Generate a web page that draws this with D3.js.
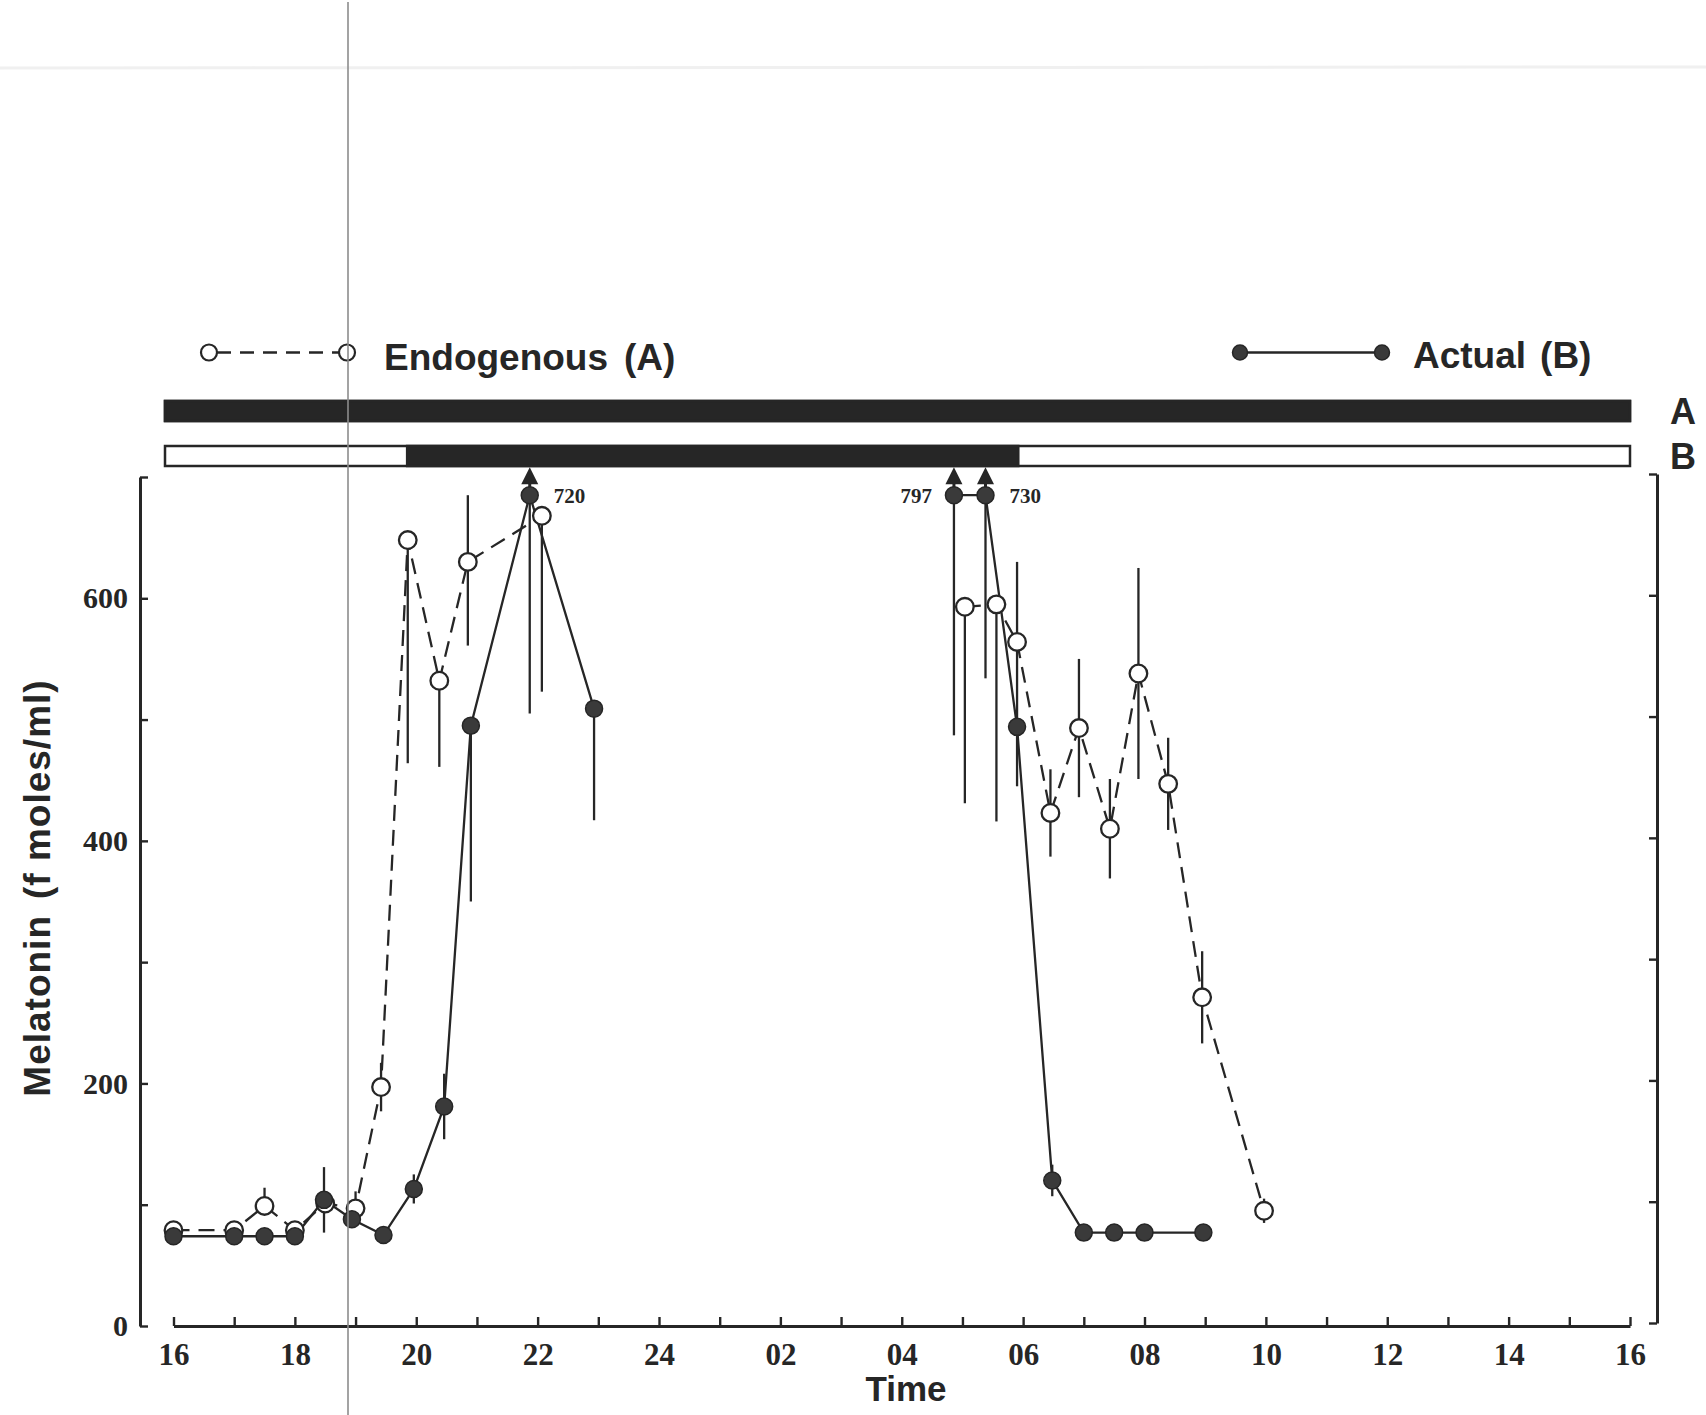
<!DOCTYPE html>
<html>
<head>
<meta charset="utf-8">
<script src="https://cdn.jsdelivr.net/npm/d3@7"></script>
<style>
  html, body { margin: 0; padding: 0; background: #fff; }
  svg { display: block; }
</style>
</head>
<body>
<svg id="chart" width="1706" height="1415"></svg>
<script>
// Clock time is counted on past midnight: 24 = midnight, 28 = 04:00, 40 = 16:00 next day.

// Endogenous rhythm (A) – open circles, dashed line
const endoTime     = [16, 17, 17.5, 18, 18.5, 19, 19.42, 19.86, 20.38, 20.85, 22.07, 29.04, 29.56, 29.9, 30.45, 30.92, 31.43, 31.9, 32.39, 32.95, 33.97];
const endoValue    = [79, 79, 99, 79, 101, 97, 197, 648, 532, 630, 668, 593, 595, 564, 423, 493, 410, 538, 447, 271, 95];
const endoErrUp    = [0, 0, 15, 0, 0, 14, 20, 0, 0, 67, 0, 0, 0, 66, 36, 57, 41, 87, 38, 38, 10];
const endoErrDown  = [0, 0, 0, 0, 0, 0, 20, 184, 71, 69, 145, 162, 179, 66, 36, 57, 41, 87, 38, 38, 10];

// Actual rhythm (B) – filled circles, solid line
const actualTime    = [16, 17, 17.5, 18, 18.48, 18.94, 19.46, 19.96, 20.46, 20.9, 21.87, 22.93, 28.86, 29.38, 29.9, 30.48, 31, 31.5, 32, 32.97];
const actualValue   = [74, 74, 74, 74, 104, 88, 75, 113, 181, 495, 720, 509, 797, 730, 494, 120, 77, 77, 77, 77];
const actualErrUp   = [0, 0, 0, 0, 27, 0, 0, 12, 27, 0, 0, 0, 0, 0, 0, 13, 0, 0, 0, 0];
const actualErrDown = [0, 0, 0, 0, 27, 0, 0, 12, 27, 145, 215, 92, 310, 196, 49, 13, 0, 0, 0, 0];

// Light/dark schedules drawn above the plot
const scheduleLabels = ["A", "B"];
const scheduleStart  = [15.86, 15.86];
const scheduleEnd    = [40, 40];
const darkFrom       = [15.86, 19.85];
const darkTo         = [40, 29.92];

// Axis ticks and labels
const hourTicks  = d3.range(16, 41, 1);
const hourLabels = ["16", "18", "20", "22", "24", "02", "04", "06", "08", "10", "12", "14", "16"];
const yTicks     = [0, 100, 200, 300, 400, 500, 600, 700];
const yLabels    = ["0", "", "200", "", "400", "", "600", ""];

// Values above this are drawn at the top of the scale with an arrow and their number
const offScaleCap = 685;

const INK = "#262626";
const svg = d3.select("#chart");

const x = d3.scaleLinear().domain([16, 40]).range([173.5, 1630]);
const y = d3.scaleLinear().domain([0, 700]).range([1326, 477]);
const yShown = v => y(Math.min(v, offScaleCap));

// faint scanner streak along the top edge
svg.append("line")
  .attr("x1", 0).attr("x2", 1706).attr("y1", 68).attr("y2", 67)
  .attr("stroke", "#f0f0f0").attr("stroke-width", 3);

// ---- schedule bars ----
const barH = 20;
const barY = [401, 446];
scheduleLabels.forEach((lab, i) => {
  const g = svg.append("g");
  g.append("rect")
    .attr("x", x(scheduleStart[i])).attr("y", barY[i])
    .attr("width", x(scheduleEnd[i]) - x(scheduleStart[i])).attr("height", barH)
    .attr("fill", "#fff").attr("stroke", INK).attr("stroke-width", 2.5);
  g.append("rect")
    .attr("x", x(darkFrom[i])).attr("y", barY[i])
    .attr("width", x(darkTo[i]) - x(darkFrom[i])).attr("height", barH)
    .attr("fill", INK).attr("stroke", INK).attr("stroke-width", 2.5);
  g.append("text")
    .attr("x", 1683).attr("y", barY[i] + barH / 2)
    .attr("dy", "0.36em")
    .attr("text-anchor", "middle")
    .attr("font-family", "'Liberation Sans', Arial, sans-serif")
    .attr("font-weight", "bold").attr("font-size", 36)
    .attr("fill", INK)
    .text(lab);
});

// ---- axes ----
const fmtHour = h => ((h - 16) % 2 === 0 ? hourLabels[(h - 16) / 2] : "");

const xAxis = svg.append("g")
  .attr("transform", `translate(0, ${y(0)})`)
  .call(d3.axisBottom(x).tickValues(hourTicks).tickFormat(fmtHour)
        .tickSize(-9).tickSizeOuter(0).tickPadding(17));
xAxis.select(".domain").attr("stroke", INK).attr("stroke-width", 3.2);
xAxis.selectAll(".tick line").attr("stroke", INK).attr("stroke-width", 2.4);
xAxis.selectAll(".tick text")
  .attr("font-family", "'Liberation Serif', 'Times New Roman', serif")
  .attr("font-weight", "bold").attr("font-size", 31).attr("fill", INK);

const yAxisL = svg.append("g")
  .attr("transform", "translate(140, 0)")
  .call(d3.axisLeft(y).tickValues(yTicks)
        .tickFormat((d, i) => yLabels[i])
        .tickSize(-8).tickSizeOuter(0).tickPadding(12));
yAxisL.select(".domain").attr("stroke", INK).attr("stroke-width", 3);
yAxisL.selectAll(".tick line").attr("stroke", INK).attr("stroke-width", 2.4);
yAxisL.selectAll(".tick text")
  .attr("font-family", "'Liberation Serif', 'Times New Roman', serif")
  .attr("font-weight", "bold").attr("font-size", 30).attr("fill", INK);

const yAxisR = svg.append("g")
  .attr("transform", "translate(1657, -3)")
  .call(d3.axisRight(y).tickValues(yTicks).tickFormat("")
        .tickSize(-8).tickSizeOuter(0));
yAxisR.select(".domain").attr("stroke", INK).attr("stroke-width", 3);
yAxisR.selectAll(".tick line").attr("stroke", INK).attr("stroke-width", 2.4);

// axis titles
svg.append("text")
  .attr("x", 906).attr("y", 1401)
  .attr("text-anchor", "middle")
  .attr("font-family", "'Liberation Sans', Arial, sans-serif")
  .attr("font-weight", "bold").attr("font-size", 35).attr("fill", INK)
  .text("Time");

const yTitle = svg.append("text")
  .attr("transform", "translate(50, 888) rotate(-90)")
  .attr("text-anchor", "middle")
  .attr("font-family", "'Liberation Sans', Arial, sans-serif")
  .attr("font-weight", "bold").attr("font-size", 37).attr("fill", INK)
  .attr("letter-spacing", 1);
yTitle.append("tspan").text("Melatonin");
yTitle.append("tspan").attr("dx", 16).text("(f moles/ml)");

// ---- series ----
function build(times, values, up, down) {
  return times.map((t, i) => ({ t, v: values[i], up: up[i], down: down[i] }));
}
const endo = build(endoTime, endoValue, endoErrUp, endoErrDown);
const actual = build(actualTime, actualValue, actualErrUp, actualErrDown);

// break the line where no samples were taken overnight
function segments(pts) {
  const out = [[pts[0]]];
  for (let i = 1; i < pts.length; i++) {
    if (pts[i].t - pts[i - 1].t > 3) out.push([]);
    out[out.length - 1].push(pts[i]);
  }
  return out;
}
const line = d3.line().x(d => x(d.t)).y(d => yShown(d.v));

svg.append("g").selectAll("path").data(segments(endo)).join("path")
  .attr("d", line).attr("fill", "none")
  .attr("stroke", INK).attr("stroke-width", 2.3).attr("stroke-dasharray", "16 9");

svg.append("g").selectAll("path").data(segments(actual)).join("path")
  .attr("d", line).attr("fill", "none")
  .attr("stroke", INK).attr("stroke-width", 2.3);

// error bars (one- or two-sided)
function errorBars(pts) {
  svg.append("g").selectAll("line")
    .data(pts.filter(d => d.up > 0 || d.down > 0)).join("line")
    .attr("x1", d => x(d.t)).attr("x2", d => x(d.t))
    .attr("y1", d => yShown(d.v + d.up))
    .attr("y2", d => y(d.v - d.down))
    .attr("stroke", INK).attr("stroke-width", 2.3);
}
errorBars(endo);
errorBars(actual);

// off-scale arrows and value labels
const capped = actual.filter(d => d.v > offScaleCap);
const arrows = svg.append("g");
capped.forEach((d, i) => {
  const cx = x(d.t), cy = yShown(d.v);
  arrows.append("line")
    .attr("x1", cx).attr("x2", cx).attr("y1", cy).attr("y2", cy - 14)
    .attr("stroke", INK).attr("stroke-width", 3);
  arrows.append("path")
    .attr("d", `M${cx},${cy - 28} L${cx - 8.5},${cy - 11} L${cx + 8.5},${cy - 11} Z`)
    .attr("fill", INK);
  const next = capped[i + 1];
  const onLeft = next && next.t - d.t < 1;
  arrows.append("text")
    .attr("x", onLeft ? cx - 22 : cx + 24)
    .attr("y", cy + 8)
    .attr("text-anchor", onLeft ? "end" : "start")
    .attr("font-family", "'Liberation Serif', 'Times New Roman', serif")
    .attr("font-weight", "bold").attr("font-size", 21).attr("fill", INK)
    .text(d.v);
});

// points
svg.append("g").selectAll("circle").data(endo).join("circle")
  .attr("cx", d => x(d.t)).attr("cy", d => yShown(d.v)).attr("r", 8.8)
  .attr("fill", "#fff").attr("stroke", INK).attr("stroke-width", 2.3);

svg.append("g").selectAll("circle").data(actual).join("circle")
  .attr("cx", d => x(d.t)).attr("cy", d => yShown(d.v)).attr("r", 8.5)
  .attr("fill", "#3a3a3a").attr("stroke", INK).attr("stroke-width", 1.5);

// ---- legend ----
const legend = svg.append("g");
const legY = 352.5;
legend.append("line")
  .attr("x1", 217).attr("x2", 339).attr("y1", legY).attr("y2", legY)
  .attr("stroke", INK).attr("stroke-width", 2.3).attr("stroke-dasharray", "14 9");
[209, 347].forEach(cx => legend.append("circle")
  .attr("cx", cx).attr("cy", legY).attr("r", 8)
  .attr("fill", "#fff").attr("stroke", INK).attr("stroke-width", 2.2));
const endoLabel = legend.append("text")
  .attr("x", 384).attr("y", 370)
  .attr("font-family", "'Liberation Sans', Arial, sans-serif")
  .attr("font-weight", "bold").attr("font-size", 37).attr("fill", INK);
endoLabel.append("tspan").text("Endogenous");
endoLabel.append("tspan").attr("dx", 16).text("(A)");

legend.append("line")
  .attr("x1", 1240).attr("x2", 1382).attr("y1", legY).attr("y2", legY)
  .attr("stroke", INK).attr("stroke-width", 2.3);
[1240, 1382].forEach(cx => legend.append("circle")
  .attr("cx", cx).attr("cy", legY).attr("r", 7.5)
  .attr("fill", "#3a3a3a").attr("stroke", INK).attr("stroke-width", 1.5));
const actLabel = legend.append("text")
  .attr("x", 1413).attr("y", 368)
  .attr("font-family", "'Liberation Sans', Arial, sans-serif")
  .attr("font-weight", "bold").attr("font-size", 37).attr("fill", INK);
actLabel.append("tspan").text("Actual");
actLabel.append("tspan").attr("dx", 14).text("(B)");

// thin vertical guide line over the whole sheet
svg.append("line")
  .attr("x1", 348).attr("x2", 348).attr("y1", 2).attr("y2", 1415)
  .attr("stroke", "#8c8c8c").attr("stroke-width", 1.6);
</script>
</body>
</html>
